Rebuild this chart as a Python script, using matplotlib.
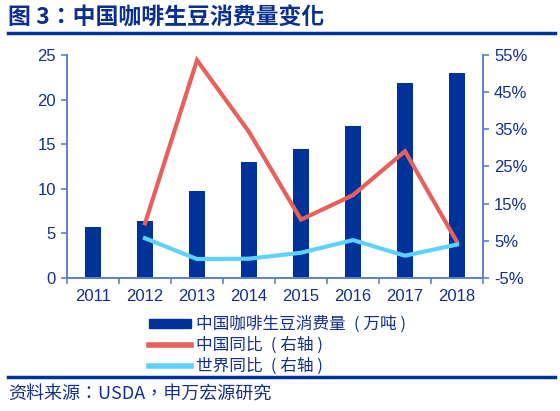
import matplotlib
matplotlib.use("Agg")
import matplotlib.pyplot as plt
from matplotlib.lines import Line2D
from matplotlib.patches import Patch

years = ["2011", "2012", "2013", "2014", "2015", "2016", "2017", "2018"]
consumption = [5.75, 6.35, 9.75, 13.05, 14.5, 17.0, 21.9, 22.95]
china_yoy = [None, 9.7, 53.6, 34.3, 10.7, 17.3, 29.1, 4.7]
world_yoy = [None, 5.7, 0.1, 0.2, 1.8, 5.2, 1.0, 4.0]
left_ticks = [0, 5, 10, 15, 20, 25]
right_ticks = [-5, 5, 15, 25, 35, 45, 55]

title = "图 3：中国咖啡生豆消费量变化"
source = "资料来源：USDA，申万宏源研究"
legend_labels = ["中国咖啡生豆消费量\u2002( 万吨 )",
                 "中国同比\u2002( 右轴 )",
                 "世界同比\u2002( 右轴 )"]

BAR = "#003399"
RED = "#E8605B"
CYAN = "#5DD2FF"
SPINE = "#5B80CC"
TXT = "#14308C"
TITLE = "#0B2F8F"

cjk = ["Noto Sans CJK TC", "DejaVu Sans"]
num = ["Liberation Sans", "Noto Sans CJK TC"]
plt.rcParams["font.family"] = cjk

fig = plt.figure(figsize=(5.6, 4.11), dpi=100)
ax = fig.add_axes([67/560, 1-278/411, (483-67)/560, (278-55)/411])
ax2 = ax.twinx()

x = list(range(len(years)))
bars = ax.bar(x, consumption, width=0.31, color=BAR, zorder=2)
ax.set_ylim(0, 25)
ax.set_xlim(-0.5, len(years)-0.5)
ax.set_yticks(left_ticks)
ax.set_xticks(x)
ax.set_xticklabels(years)
ax.set_xticks([i-0.5 for i in range(len(years)+1)], minor=True)
ax.tick_params(axis="x", which="major", length=0, pad=8)
ax.tick_params(axis="x", which="minor", length=4, color=SPINE, width=1.2)
ax.tick_params(axis="y", length=4, color=SPINE, width=1.2, pad=4)

xs = [i for i, v in enumerate(china_yoy) if v is not None]
ax2.plot(xs, [china_yoy[i] for i in xs], color=RED, lw=3, zorder=3, solid_joinstyle="miter")
xw = [i for i, v in enumerate(world_yoy) if v is not None]
ax2.plot(xw, [world_yoy[i] for i in xw], color=CYAN, lw=3, zorder=3)
ax2.set_ylim(-5, 55)
ax2.set_yticks(right_ticks)
ax2.set_yticklabels([f"{t}%" for t in right_ticks])
ax2.tick_params(axis="y", length=4, color=SPINE, width=1.2, pad=4)

for a in (ax, ax2):
    a.spines["top"].set_visible(False)
    for s in ("left", "right", "bottom"):
        a.spines[s].set_color(SPINE)
        a.spines[s].set_linewidth(1.2)
    for lab in a.get_xticklabels() + a.get_yticklabels():
        lab.set_fontfamily(num)
        lab.set_fontsize(12)
        lab.set_color(TXT)

handles = [Patch(facecolor=BAR, edgecolor=BAR),
           Line2D([], [], color=RED, lw=4),
           Line2D([], [], color=CYAN, lw=4)]
leg = fig.legend(handles, legend_labels, loc="upper left",
                 bbox_to_anchor=(134/560, 1-301/411), frameon=False,
                 handlelength=2.5, handleheight=0.5, handletextpad=0.3,
                 labelspacing=0.22, prop={"family": cjk, "size": 12})
for t in leg.get_texts():
    t.set_color(TXT)

fig.text(8/560, 1-18/411, title, fontsize=16.5, fontweight="bold", color=TITLE,
         va="center", ha="left", family=cjk)
fig.add_artist(Line2D([8/560, 555/560], [1-33/411, 1-33/411], color=BAR, lw=2.5))
fig.add_artist(Line2D([8/560, 555/560], [1-377/411, 1-377/411], color=BAR, lw=2.5))
fig.text(8/560, 1-395/411, source, fontsize=13, color=TXT, va="center", ha="left", family=cjk)

fig.savefig("out.png", dpi=100)
